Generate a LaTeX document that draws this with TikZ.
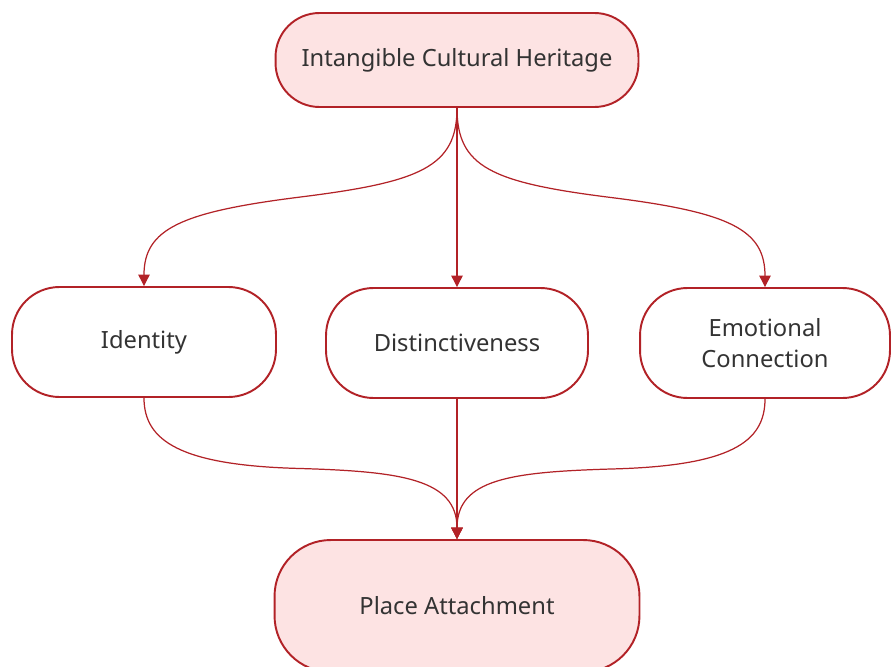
\documentclass[tikz,border=0pt]{standalone}
\usepackage{fontspec}
\setmainfont{Noto Sans}
\usetikzlibrary{arrows.meta,calc}
\definecolor{edgered}{HTML}{B22227}
\definecolor{boxfill}{HTML}{FDE3E3}
\definecolor{textgray}{HTML}{333333}

\begin{document}
\begin{tikzpicture}
  [x=0.02cm,y=-0.02cm,every node/.style={draw=edgered,line width=1.1pt,rounded corners=27pt,text=textgray,font=\fontsize{13.5}{18}\selectfont,align=center,minimum height=2.2cm},
   key/.style={fill=boxfill},
   flow/.style={draw=edgered,line width=0.7pt,-{Triangle[length=6.5pt,width=6.5pt]}}]
  \useasboundingbox (0,0) rectangle (892,666);
  \node[key,rounded corners=25pt,minimum width=7.26cm,minimum height=1.88cm] (ich) at (457,60) {Intangible Cultural Heritage};
  \node[minimum width=5.28cm] (id)  at (144,342) {Identity};
  \node[minimum width=5.24cm] (dis) at (457,343) {Distinctiveness};
  \node[minimum width=5.0cm]  (emo) at (765,343) {Emotional\\Connection};
  \node[key,rounded corners=32pt,minimum width=7.3cm,minimum height=2.64cm] (pa) at (457,606) {Place Attachment};

  % fan out
  \draw[flow] (ich.south) -- (dis.north);
  \foreach \to/\s in {id/1,emo/-1}
    \draw[flow] (ich.south) .. controls +(0,59) and +(120*\s,-15) .. ($(ich.south)!.5!(\to.north)$)
      .. controls +(-120*\s,15) and +(0,-57) .. (\to.north);

  % fan in
  \draw[flow] (dis.south) -- (pa.north);
  \foreach \from/\s in {id/1,emo/-1}
    \draw[flow] (\from.south) .. controls +(0,43) and +(-120*\s,-3) .. ($(\from.south)!.5!(pa.north)$)
      .. controls +(100*\s,3) and +(0,-60) .. (pa.north);

\end{tikzpicture}
\end{document}
